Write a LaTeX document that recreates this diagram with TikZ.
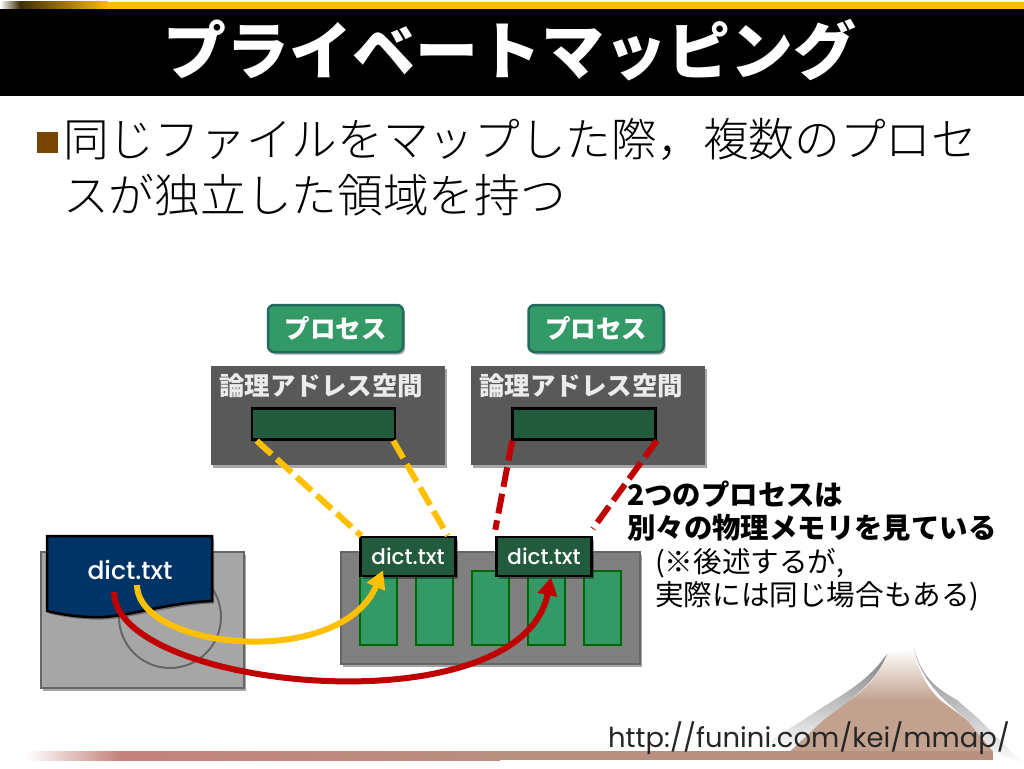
\documentclass[tikz,border=0pt]{standalone}
\usepackage{fontspec}
\usepackage{tikz}
\usetikzlibrary{shapes,arrows,positioning,calc,shadows,arrows.meta}
\setmainfont{Poppins}
\newfontfamily\dictfont{Poppins Medium}
\newfontfamily\jp{Noto Sans CJK JP}
\newfontfamily\jplight{Noto Sans CJK JP Light}
\definecolor{barbrown}{HTML}{B98F80}
\definecolor{barrose}{HTML}{C4827C}
\definecolor{bargold}{HTML}{FFB90F}
\definecolor{mounttan}{HTML}{C2A28E}
\definecolor{bullet}{HTML}{7A4500}
\definecolor{procgreen}{HTML}{339966}
\definecolor{procedge}{HTML}{1F6B5F}
\definecolor{areagreen}{HTML}{215A3C}
\definecolor{filenavy}{HTML}{003366}
\definecolor{lineyellow}{HTML}{FFC000}
\definecolor{linered}{HTML}{C00000}
\tikzset{
    softshadow/.style={drop shadow={shadow xshift=2pt,shadow yshift=-2.5pt,fill=black,opacity=0.35}},
    procbox/.style={draw=procedge,line width=2.5pt,fill=procgreen,rounded corners=6pt,minimum width=135pt,minimum height=47pt,text=white,font=\jp\bfseries\fontsize{25.5}{25.5}\selectfont,softshadow},
    spacebox/.style={fill=black!65,minimum width=234pt,minimum height=99pt,softshadow},
    spacelabel/.style={text=white!92!black,font=\jp\bfseries\fontsize{25.5}{25.5}\selectfont},
    regionbox/.style={draw=black,line width=2.5pt,fill=areagreen,minimum width=143pt,minimum height=31pt},
    devbox/.style={draw=black!60,line width=2.5pt,softshadow},
    cellbox/.style={draw=green!40!black,line width=2.5pt,fill=procgreen,minimum width=37pt,minimum height=74pt},
    mapbox/.style={draw=black,line width=2.5pt,fill=areagreen,minimum width=95pt,minimum height=39pt,text=white,font=\dictfont\fontsize{21.5}{21.5}\selectfont,softshadow},
    yellowdash/.style={draw=lineyellow,line width=6pt,dash pattern=on 20pt off 7pt},
    reddash/.style={draw=linered,line width=6pt,dash pattern=on 20pt off 7pt},
    notebold/.style={anchor=west,font=\jp\bfseries\fontsize{28.4}{28.4}\selectfont},
    notetext/.style={anchor=west,font=\jp\fontsize{28.6}{28.6}\selectfont},
}
\begin{document}
\begin{tikzpicture}[x=1pt,y=-1pt]
    \useasboundingbox (0,0) rectangle (1024,768);

    % slide frame
    \fill[white] (0,0) rectangle (1024,768);
    \fill[black] (0,9) rectangle (1024,96);
    \shade[left color=black!75!bargold,right color=bargold] (20,2) rectangle (108,9);
    \fill[bargold] (108,2) rectangle (1024,9);
    \shade[left color=white,right color=black!75!bargold] (0,2) rectangle (20,9);

    % mountain
    \shade[top color=white,bottom color=mounttan] (887,654) .. controls (880,675) and (865,690) .. (850,700) -- (940,700) .. controls (925,685) and (918,670) .. (914,649) -- cycle;
    \fill[mounttan] (850,700) -- (823,720) -- (790,751) -- (993,751) -- (967,720) -- (940,700) -- cycle;
    \shade[top color=black!50,bottom color=white] (887,654) .. controls (865,685) and (840,695) .. (803,720) -- (770,741) -- (790,751) -- (823,720) .. controls (850,700) and (875,685) .. (887,654) -- cycle;
    \shade[top color=black!50,bottom color=white] (914,648) .. controls (922,680) and (940,690) .. (957,700) -- (980,720) -- (1024,765) -- (993,751) -- (967,720) .. controls (950,705) and (922,685) .. (914,648) -- cycle;

    \shade[left color=white,right color=barrose] (25,751) rectangle (120,760);
    \shade[left color=barrose,right color=barbrown] (120,751) rectangle (500,760);
    \fill[barbrown] (500,751) rectangle (993,760);

    % title and bullet
    \node (title) at (510,50) {\color{white}\jp\bfseries\fontsize{63}{63}\selectfont プライベートマッピング};
    \fill[bullet] (37,132) rectangle (58,153);
    \node[anchor=west,inner sep=0pt] (lineone) at (63,139) {\jplight\fontsize{45.7}{45.7}\selectfont 同じファイルをマップした際\symbol{"FF0C}複数のプロセ};
    \node[anchor=west,inner sep=0pt] (linetwo) at (63,195) {\jplight\fontsize{45.7}{45.7}\selectfont スが独立した領域を持つ};

    % processes
    \node[procbox] (procA) at (335.5,328.5) {プロセス};
    \node[procbox] (procB) at (596,328.5) {プロセス};
    \node[spacebox] (spaceA) at (328,415.5) {};
    \node[spacebox] (spaceB) at (588,415.5) {};
    \node[spacelabel] (labelA) at (321,386) {論理アドレス空間};
    \node[spacelabel] (labelB) at (581,386) {論理アドレス空間};
    \node[regionbox] (regionA) at (323.5,424) {};
    \node[regionbox] (regionB) at (584,424) {};

    % disk
    \draw[devbox,fill=black!35] (41,552) rectangle (244,688);
    \draw[draw=black!60,line width=2pt] (170,617) circle (51);
    \draw[draw=black,line width=2.5pt,fill=filenavy,softshadow] (47,536) -- (212,536) -- (212,601) .. controls (160,603) and (125,619) .. (90,617) .. controls (70,616) and (60,614) .. (47,611) -- cycle;
    \node[text=white,font=\dictfont\fontsize{25}{25}\selectfont] (diskfile) at (130,570) {dict.txt};

    % memory
    \draw[devbox,fill=black!50] (341,552) rectangle (640,664);
    \node[cellbox] (cellA) at (378.5,608) {};
    \node[cellbox] (cellB) at (434.5,608) {};
    \node[cellbox] (cellC) at (490.5,608) {};
    \node[cellbox] (cellD) at (546.5,608) {};
    \node[cellbox] (cellE) at (602.5,608) {};

    \node[mapbox] (mapA) at (408,556.5) {dict.txt};
    \node[mapbox] (mapB) at (544,556.5) {dict.txt};

    % mappings
    \draw[yellowdash] ([xshift=6pt]regionA.south west) -- ([xshift=2pt]mapA.north west);
    \draw[yellowdash] ([xshift=-3pt]regionA.south east) -- ([xshift=-9pt]mapA.north east);
    \draw[reddash] ([xshift=1pt]regionB.south west) -- ([yshift=6pt]mapB.north west);
    \draw[reddash] (regionB.south east) -- ([yshift=7pt]mapB.north east);

    \coordinate (yellowstart) at (137,585);
    \coordinate (redstart) at (114,592);
    \draw[line width=6pt,draw=lineyellow,-{Triangle[length=18pt,width=19pt]}] (yellowstart) .. controls (138,650) and (340,670) .. ([xshift=-25pt,yshift=7pt]mapA.south);
    \draw[line width=6pt,draw=linered,-{Triangle[length=18pt,width=19pt]}] (redstart) .. controls (115,690) and (520,730) .. ([xshift=7pt]mapB.south);

    % note
    \node[notebold,inner sep=0pt] (noteA) at (627,494) {2つのプロセスは};
    \node[notebold,inner sep=0pt] (noteB) at (627,528) {別々の物理メモリを見ている};
    \node[notetext,inner sep=0pt] (noteC) at (655,563) {(※後述するが,};
    \node[notetext,inner sep=0pt] (noteD) at (655,596) {実際には同じ場合もある)};

    \node[anchor=west,inner sep=0pt,font=\fontsize{27.4}{27.4}\selectfont,text=black!85] (url) at (608,738) {http://funini.com/kei/mmap/};
\end{tikzpicture}
\end{document}
